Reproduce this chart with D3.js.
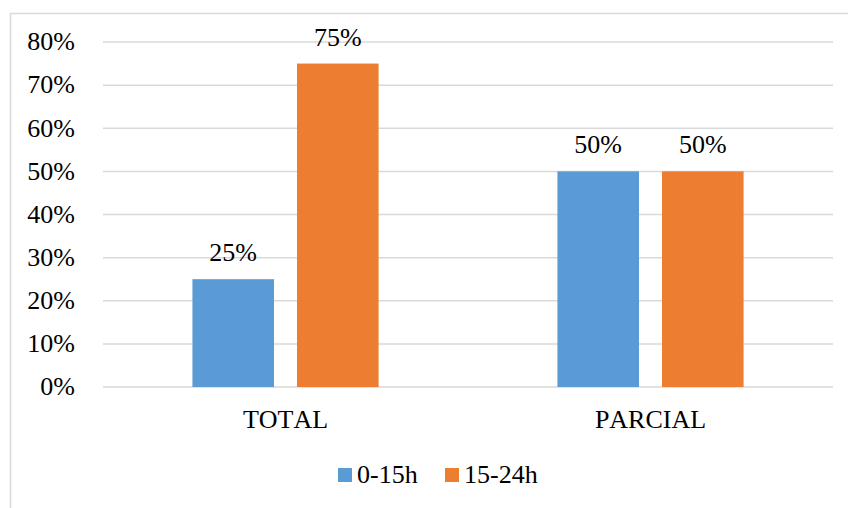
<!DOCTYPE html>
<html>
<head>
<meta charset="utf-8">
<script src="https://cdn.jsdelivr.net/npm/d3@7"></script>
<style>
  html, body { margin: 0; padding: 0; background: #fff; }
</style>
</head>
<body>
<svg id="chart" width="848" height="508"></svg>
<script>
// Schedule share by contract type
const categories = ["TOTAL", "PARCIAL"];
const seriesNames = ["0-15h", "15-24h"];
const seriesColors = ["#5b9bd5", "#ed7d31"];
const values0to15 = [0.25, 0.50];
const values15to24 = [0.75, 0.50];
const yTicks = [0, 0.1, 0.2, 0.3, 0.4, 0.5, 0.6, 0.7, 0.8];

const seriesValues = [values0to15, values15to24];
const svg = d3.select("#chart");
const fontSize = 26;
const serif = '"Liberation Serif"';

function textStyle(sel) {
  return sel.style("font-family", serif)
    .style("font-size", fontSize + "px")
    .style("font-kerning", "none")
    .attr("fill", "#000");
}

// Outer frame
svg.append("rect")
  .attr("x", 10.5).attr("y", 13.5)
  .attr("width", 850).attr("height", 520)
  .attr("fill", "none").attr("stroke", "#d9d9d9").attr("stroke-width", 1.5);

const plot = { left: 103, right: 833, top: 42, bottom: 387 };

const y = d3.scaleLinear().domain([0, 0.8]).range([plot.bottom, plot.top]);
const x0 = d3.scaleBand().domain(categories).range([plot.left, plot.right]).paddingInner(0).paddingOuter(0);
const groupWidth = x0.bandwidth();
const x1 = d3.scaleBand().domain(seriesNames)
  .range([groupWidth * 0.245, groupWidth * 0.755]).paddingInner(0.22);

// Gridlines
svg.append("g")
  .selectAll("line").data(yTicks).join("line")
  .attr("x1", plot.left).attr("x2", plot.right)
  .attr("y1", d => y(d)).attr("y2", d => y(d))
  .attr("stroke", "#d9d9d9").attr("stroke-width", 1.5);

// Y axis labels
const yAxis = d3.axisLeft(y).tickValues(yTicks).tickFormat(d3.format(".0%")).tickSize(0).tickPadding(0);
const yg = svg.append("g").attr("transform", `translate(75,0)`).call(yAxis);
yg.select(".domain").remove();
textStyle(yg.selectAll("text")).attr("dy", "0.3em");

// Bars
const groups = svg.append("g").selectAll("g").data(categories).join("g")
  .attr("transform", d => `translate(${x0(d)},0)`);

groups.selectAll("rect")
  .data((c, i) => seriesNames.map((s, j) => ({ s, j, v: seriesValues[j][i] })))
  .join("rect")
  .attr("x", d => x1(d.s))
  .attr("width", x1.bandwidth())
  .attr("y", d => y(d.v))
  .attr("height", d => y(0) - y(d.v))
  .attr("fill", d => seriesColors[d.j]);

// Value labels
textStyle(groups.selectAll("text.val")
  .data((c, i) => seriesNames.map((s, j) => ({ s, j, v: seriesValues[j][i] })))
  .join("text")
  .attr("class", "val")
  .attr("x", d => x1(d.s) + x1.bandwidth() / 2)
  .attr("y", d => y(d.v) - 18)
  .attr("text-anchor", "middle"))
  .text(d => d3.format(".0%")(d.v));

// Category labels
textStyle(svg.append("g").selectAll("text").data(categories).join("text")
  .attr("x", d => x0(d) + groupWidth / 2)
  .attr("y", 428)
  .attr("text-anchor", "middle"))
  .text(d => d);

// Legend
const legendItems = [{ x: 338 }, { x: 445 }];
const legend = svg.append("g").selectAll("g").data(seriesNames).join("g")
  .attr("transform", (d, i) => `translate(${legendItems[i].x},468)`);
legend.append("rect").attr("width", 14).attr("height", 14)
  .attr("fill", (d, i) => seriesColors[i]);
textStyle(legend.append("text").attr("x", 19).attr("y", 15))
  .text(d => d);
</script>
</body>
</html>
